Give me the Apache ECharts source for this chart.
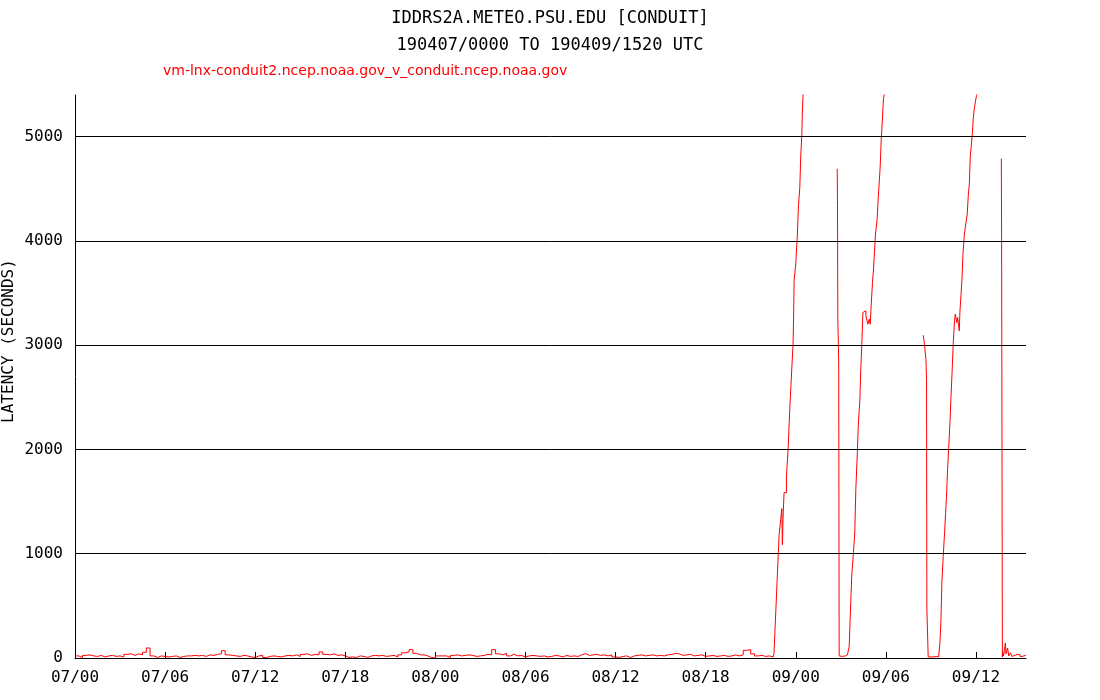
<!DOCTYPE html>
<html>
<head>
<meta charset="utf-8">
<script src="https://cdn.jsdelivr.net/npm/echarts@6/dist/echarts.min.js"></script>
<style>
html,body{margin:0;padding:0;background:#fff;}
#chart{width:1100px;height:700px;}
</style>
</head>
<body>
<div id="chart"></div>
<script>
// ---- data ----
const titleLine1 = 'IDDRS2A.METEO.PSU.EDU [CONDUIT]';
const titleLine2 = '190407/0000 TO 190409/1520 UTC';
const seriesName = 'vm-lnx-conduit2.ncep.noaa.gov_v_conduit.ncep.noaa.gov';
const yAxisTitle = 'LATENCY (SECONDS)';

// x values are hours since 07/00 UTC
const xTickHours = [0, 6, 12, 18, 24, 30, 36, 42, 48, 54, 60];
const xTickLabels = ['07/00','07/06','07/12','07/18','08/00','08/06','08/12','08/18','09/00','09/06','09/12'];
const xEndHour = 63.333; // 09/15:20
const yTicks = [0, 1000, 2000, 3000, 4000, 5000];
const yGridLines = [1000, 2000, 3000, 4000, 5000];

// baseline latency (seconds), one reading every 15 minutes from 07/00 to 08/22:30
const baselineStepMinutes = 15;
const baselineLatency = [
  20, 5, 25, 30,   20, 15, 25, 10,   20, 25, 15, 20,   10, 35, 40, 25,
  40, 30, 55, 96,  20, 5, 20, 15,    10, 15, 20, 5,    15, 20, 20, 25,
  20, 25, 15, 30,  25, 35, 40, 70,   30, 25, 20, 15,   25, 20, 10, 5,
  20, 25, 5, 15,   20, 15, 10, 20,   25, 20, 30, 15,   35, 40, 25, 35,
  30, 58, 35, 30,  40, 25, 30, 20,   5, 10, 5, 20,     15, 5, 20, 25,
  20, 25, 15, 20,  25, 10, 30, 50,   60, 80, 45, 30,   30, 20, 5, 0,
  20, 20, 20, 5,   25, 30, 20, 25,   30, 25, 15, 20,   25, 35, 30, 80,
  40, 30, 45, 20,  35, 20, 25, 10,   20, 25, 20, 15,   20, 10, 15, 25,
  20, 10, 25, 15,  20, 15, 30, 42,   25, 30, 35, 25,   30, 20, 30, 10,
  5, 15, 20, 5,    20, 25, 30, 20,   25, 30, 20, 25,   20, 30, 35, 45,
  40, 25, 30, 35,  20, 25, 30, 15,   20, 25, 15, 20,   25, 15, 20, 30,
  20, 30, 74, 80,  40, 20, 25, 15,   20, 10, 25
];

// latency event readings [hour, seconds]; '-' marks missing data
const eventHours = [
  46.55, 46.67, 46.78, 46.89, 47.00, 47.07, 47.11, 47.15, 47.22, 47.38, 47.49, 47.60, 47.71, 47.82,
  47.86, 47.89, 48.00, 48.11, 48.18, 48.27, 48.33, 48.40, 48.44, 48.49, 48.55, 49.5,
  50.76, 50.78, 50.80, 50.86, 50.89, 51.00, 51.10, 51.20, 51.30, 51.44,
  51.56, 51.62, 51.73, 51.84, 51.93, 52.00, 52.11, 52.16, 52.27, 52.33, 52.40, 52.47, 52.56,
  52.60, 52.67, 52.73, 52.80, 52.89, 52.96, 53.02, 53.11, 53.18, 53.24, 53.31, 53.38, 53.42,
  53.49, 53.56, 53.62, 53.69, 53.76, 53.84, 53.91, 53.95, 55.0,
  56.49, 56.56, 56.60, 56.67, 56.71, 56.73, 56.82, 57.00, 57.20, 57.35, 57.51,
  57.60, 57.67, 57.73, 57.82, 57.91, 57.98, 58.04, 58.11, 58.18, 58.27, 58.33, 58.40, 58.49,
  58.56, 58.62, 58.69, 58.73, 58.78, 58.82, 58.89, 58.93, 59.00, 59.07, 59.13, 59.22, 59.29,
  59.36, 59.42, 59.49, 59.56, 59.62, 59.69, 59.76, 59.82, 59.89, 59.96, 60.00, 60.04, 60.11, 60.15, 61.0,
  61.69, 61.71, 61.76, 61.78, 61.84, 61.96, 62.00, 62.11, 62.18, 62.29, 62.40, 62.53, 62.67,
  62.80, 62.93, 63.07, 63.20, 63.33
];
const eventLatency = [
  45, 445, 814, 1183, 1330, 1433, 1087, 1330, 1586, 1744, 2000, 2385, 2705, 3010,
  3300, 3621, 3783, 4067, 4339, 4516, 4804, 5012, 5237, 5413, 5600, '-',
  4692, 4340, 3270, 2840, 20, 15, 10, 20, 30, 25,
  109, 365, 798, 1010, 1200, 1615, 2000, 2224, 2481, 2769, 3010, 3314, 3330,
  3330, 3282, 3298, 3202, 3250, 3202, 3378, 3603, 3731, 3891, 4067, 4050, 4212,
  4404, 4564, 4708, 4965, 5141, 5365, 5413, 5600, '-',
  3096, 3026, 2962, 2865, 2673, 481, 10, 10, 15, 10, 10,
  141, 365, 721, 974, 1202, 1394, 1551, 1808, 2000, 2260, 2481, 2705, 3026,
  3202, 3298, 3250, 3218, 3266, 3218, 3138, 3314, 3474, 3635, 3859, 4051, 4131,
  4147, 4260, 4436, 4548, 4804, 4917, 5029, 5173, 5269, 5333, 5365, 5397, 5413, 5600, '-',
  4790, 3923, 10, 60, 20, 144, 40, 96, 20, 50, 15, 30, 20,
  35, 15, 30, 25, 30
];

// ---- build series data ----
const lineData = [];
baselineLatency.forEach((v, i) => lineData.push([i * baselineStepMinutes / 60, v]));
eventHours.forEach((h, i) => lineData.push([h, eventLatency[i]]));

const tickLabelFor = {};
xTickHours.forEach((h, i) => { tickLabelFor[h] = xTickLabels[i]; });

const monoFont = '"DejaVu Sans Mono", "Liberation Mono", monospace';

const chart = echarts.init(document.getElementById('chart'), null, {renderer: 'canvas'});
chart.setOption({
  animation: false,
  backgroundColor: '#ffffff',
  grid: {left: 75, right: 74, top: 95, bottom: 42, containLabel: false},
  xAxis: {
    type: 'value',
    min: 0,
    max: xEndHour,
    axisLine: {show: true, lineStyle: {color: '#000', width: 1}},
    axisTick: {show: true, inside: true, length: 6, customValues: xTickHours, lineStyle: {color: '#000', width: 1}},
    axisLabel: {
      customValues: xTickHours,
      margin: 12,
      color: '#000',
      fontFamily: monoFont,
      fontSize: 16,
      formatter: v => tickLabelFor[v] !== undefined ? tickLabelFor[v] : ''
    },
    splitLine: {show: false}
  },
  yAxis: {
    type: 'value',
    min: 0,
    max: 5400,
    axisLine: {show: true, lineStyle: {color: '#000', width: 1}},
    axisTick: {show: false},
    axisLabel: {
      customValues: yTicks,
      margin: 12,
      color: '#000',
      fontFamily: monoFont,
      fontSize: 16,
      formatter: v => String(v)
    },
    splitLine: {show: false}
  },
  graphic: [
    {type: 'text', x: 550, y: 19, style: {text: titleLine1, fill: '#000', font: '17px ' + monoFont, textAlign: 'center', textVerticalAlign: 'middle'}},
    {type: 'text', x: 550, y: 46, style: {text: titleLine2, fill: '#000', font: '17px ' + monoFont, textAlign: 'center', textVerticalAlign: 'middle'}},
    {type: 'text', x: 163, y: 71, style: {text: seriesName, fill: '#ff0000', font: '14px "DejaVu Sans", sans-serif', textAlign: 'left', textVerticalAlign: 'middle'}},
    {type: 'text', x: 9, y: 341, rotation: Math.PI / 2, style: {text: yAxisTitle, fill: '#000', font: '16px ' + monoFont, textAlign: 'center', textVerticalAlign: 'middle'}}
  ],
  series: [
    {
      name: 'gridlines',
      type: 'line',
      data: [],
      z: 1,
      silent: true,
      markLine: {
        silent: true,
        symbol: ['none', 'none'],
        label: {show: false},
        lineStyle: {color: '#000', width: 1, type: 'solid'},
        emphasis: {disabled: true},
        data: yGridLines.map(v => ({yAxis: v}))
      }
    },
    {
      name: seriesName,
      type: 'line',
      data: lineData,
      z: 3,
      step: 'end',
      showSymbol: false,
      symbol: 'none',
      connectNulls: false,
      clip: true,
      lineStyle: {color: '#ff0000', width: 1},
      itemStyle: {color: '#ff0000'}
    }
  ]
});
</script>
</body>
</html>
